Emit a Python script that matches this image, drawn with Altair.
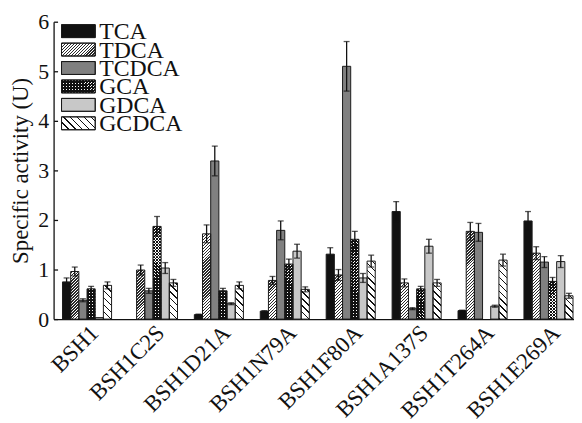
import altair as alt

# ---------------- data ----------------
strains = ["BSH1", "BSH1C2S", "BSH1D21A", "BSH1N79A", "BSH1F80A",
           "BSH1A137S", "BSH1T264A", "BSH1E269A"]
substrates = ["TCA", "TDCA", "TCDCA", "GCA", "GDCA", "GCDCA"]

tca   = [0.75, 0.00, 0.09, 0.16, 1.31, 2.17, 0.17, 1.98]
tdca  = [0.96, 0.99, 1.72, 0.78, 0.89, 0.73, 1.77, 1.33]
tcdca = [0.38, 0.57, 3.19, 1.79, 5.10, 0.21, 1.75, 1.15]
gca   = [0.61, 1.87, 0.57, 1.11, 1.61, 0.61, 0.00, 0.76]
gdca  = [0.03, 1.03, 0.31, 1.37, 0.83, 1.47, 0.26, 1.16]
gcdca = [0.68, 0.73, 0.68, 0.60, 1.17, 0.73, 1.19, 0.47]

tca_err   = [0.08, 0.00, 0.01, 0.01, 0.13, 0.20, 0.01, 0.19]
tdca_err  = [0.09, 0.10, 0.18, 0.08, 0.11, 0.08, 0.18, 0.13]
tcdca_err = [0.03, 0.05, 0.30, 0.19, 0.50, 0.02, 0.18, 0.11]
gca_err   = [0.05, 0.20, 0.05, 0.10, 0.16, 0.05, 0.00, 0.08]
gdca_err  = [0.00, 0.11, 0.02, 0.14, 0.09, 0.14, 0.02, 0.12]
gcdca_err = [0.07, 0.07, 0.07, 0.05, 0.12, 0.07, 0.12, 0.05]

y_ticks = [0, 1, 2, 3, 4, 5, 6]

values = [tca, tdca, tcdca, gca, gdca, gcdca]
errors = [tca_err, tdca_err, tcdca_err, gca_err, gdca_err, gcdca_err]

# ---------------- layout / style ----------------
PLOT_W, PLOT_H, Y_MAX = 525, 300, 6
PAD_IN, PAD_OUT, ALIGN = 0.2556, 0.075, 0.9
FONT = "Liberation Serif"
step = PLOT_W / (len(strains) - PAD_IN + 2 * PAD_OUT)
BAR_W = step * (1 - PAD_IN) / len(substrates)
PX_PER_UNIT = PLOT_H / Y_MAX
CHUNK_PX = 21                      # hatch is drawn in pieces of this height
CHUNK = CHUNK_PX / PX_PER_UNIT

# fill styles: solid colour or hatch (period px, ink fraction, ink, paper, slope)
styles = {
    "TCA":   {"solid": "#111111"},
    "TDCA":  {"hatch": (3.0, 0.45, "#2a2a2a", "#ffffff", "/")},
    "TCDCA": {"solid": "#808080"},
    "GCA":   {"hatch": (3.0, 0.55, "#111111", "#ffffff", "/"),
              "over": (3.0, 0.55, "#111111", "rgba(255,255,255,0)", "\\")},
    "GDCA":  {"solid": "#c8c8c8"},
    "GCDCA": {"hatch": (7.0, 0.2, "#111111", "#ffffff", "\\")},
}


def hatch(w, h, period, frac, ink, paper, slope):
    """Linear gradient (bounding-box units) drawing 45-degree stripes,
    phase anchored at the bottom edge of the box."""
    L = w + h
    kk = L * h / (w * w + h * h)
    if slope == "/":
        x1, y1, x2, y2 = 1, 1, 1 - kk * w / h, 1 - kk
    else:
        x1, y1, x2, y2 = 0, 1, kk * w / h, 1 - kk
    stops = []
    pos = 0.0
    while pos < L:
        a = pos / L
        b = min((pos + frac * period) / L, 1.0)
        c = min((pos + period) / L, 1.0)
        stops += [(a, ink), (b, ink), (b, paper), (c, paper)]
        pos += period
    return {"gradient": "linear", "x1": x1, "y1": y1, "x2": x2, "y2": y2,
            "stops": [{"offset": round(o, 5), "color": col} for o, col in stops]}


def fill_for(sub, w, h, key="main"):
    st = styles[sub]
    if key == "over":
        return hatch(w, h, *st["over"]) if "over" in st else "rgba(0,0,0,0)"
    if "solid" in st:
        return st["solid"]
    return hatch(w, h, *st["hatch"])


bar_rows, piece_rows, err_rows = [], [], []
for si, sub in enumerate(substrates):
    for gi, strain in enumerate(strains):
        v = values[si][gi]
        e = errors[si][gi]
        if v > 0:
            bar_rows.append({"strain": strain, "sub": sub, "value": v})
            if "solid" in styles[sub]:
                piece_rows.append({"strain": strain, "sub": sub, "y0": 0,
                                   "y1": v, "g1": styles[sub]["solid"],
                                   "g2": "rgba(0,0,0,0)"})
            else:
                lo = 0.0
                while lo < v - 1e-9:
                    hi = min(lo + CHUNK, v)
                    hpx = (hi - lo) * PX_PER_UNIT
                    piece_rows.append({"strain": strain, "sub": sub,
                                       "y0": lo, "y1": hi,
                                       "g1": fill_for(sub, BAR_W, hpx),
                                       "g2": fill_for(sub, BAR_W, hpx, "over")})
                    lo = hi
        if e > 0:
            err_rows.append({"strain": strain, "sub": sub,
                             "lo": v - e, "hi": v + e})

legend_rows = [{"sub": s,
                "g1": fill_for(s, 34, 13),
                "g2": fill_for(s, 34, 13, "over")} for s in substrates]

# ---------------- chart ----------------
x_enc = alt.X("strain:N", sort=strains,
              scale=alt.Scale(domain=strains, paddingInner=PAD_IN,
                              paddingOuter=PAD_OUT, align=ALIGN),
              axis=alt.Axis(title=None, labelAngle=-45, labelAlign="right",
                            labelBaseline="middle", labelFontSize=23,
                            labelPadding=10, labelOffset=8, ticks=False,
                            domainColor="#111111", domainWidth=1.3))
xo_enc = alt.XOffset("sub:N", sort=substrates,
                     scale=alt.Scale(domain=substrates, paddingInner=0,
                                     paddingOuter=0))
y_scale = alt.Scale(domain=[0, Y_MAX], nice=False, zero=True)
y_axis = alt.Axis(title="Specific activity (U)", values=y_ticks,
                  titleFontSize=23, titleFontWeight="normal", titlePadding=5,
                  labelFontSize=22, labelPadding=5, ticks=False, grid=False,
                  domainColor="#111111", domainWidth=1.3)

pieces_base = alt.Chart(alt.Data(values=piece_rows))
pieces = pieces_base.mark_bar(strokeWidth=0).encode(
    x=x_enc, xOffset=xo_enc,
    y=alt.Y("y0:Q", scale=y_scale, axis=y_axis), y2="y1:Q",
    fill=alt.Fill("g1:N", scale=None),
)
pieces_over = pieces_base.mark_bar(strokeWidth=0).encode(
    x=x_enc, xOffset=xo_enc,
    y=alt.Y("y0:Q", scale=y_scale), y2="y1:Q",
    fill=alt.Fill("g2:N", scale=None),
)
outline = alt.Chart(alt.Data(values=bar_rows)).mark_bar(
    fill="transparent", stroke="#1a1a1a", strokeWidth=1).encode(
    x=x_enc, xOffset=xo_enc,
    y=alt.Y("value:Q", scale=y_scale),
)

err_base = alt.Chart(alt.Data(values=err_rows))
err_rule = err_base.mark_rule(color="#111111", strokeWidth=1.3).encode(
    x=x_enc, xOffset=xo_enc,
    y=alt.Y("lo:Q", scale=y_scale), y2="hi:Q",
)
cap_hi = err_base.mark_tick(color="#111111", thickness=1.3, size=6).encode(
    x=x_enc, xOffset=xo_enc, y=alt.Y("hi:Q", scale=y_scale))
cap_lo = err_base.mark_tick(color="#111111", thickness=1.3, size=6).encode(
    x=x_enc, xOffset=xo_enc, y=alt.Y("lo:Q", scale=y_scale))

main = alt.layer(pieces, pieces_over, outline, err_rule, cap_hi, cap_lo)

# legend (inside plot, upper left)
leg_y = alt.Y("sub:N", sort=substrates,
              scale=alt.Scale(type="band", domain=substrates, range=[3, 109],
                              paddingInner=0.3, paddingOuter=0),
              axis=None)
leg_base = alt.Chart(alt.Data(values=legend_rows))
leg_rect = leg_base.mark_rect(stroke="#1a1a1a", strokeWidth=1).encode(
    x=alt.value(8), x2=alt.value(42), y=leg_y,
    fill=alt.Fill("g1:N", scale=None))
leg_rect2 = leg_base.mark_rect(stroke="#1a1a1a", strokeWidth=1).encode(
    x=alt.value(8), x2=alt.value(42), y=leg_y,
    fill=alt.Fill("g2:N", scale=None))
leg_text = leg_base.mark_text(align="left", baseline="alphabetic", fontSize=24,
                              font=FONT, color="#111111", dy=8).encode(
    x=alt.value(46), y=leg_y, text="sub:N")
legend = alt.layer(leg_rect, leg_rect2, leg_text)

# inward tick marks on the y axis
inward = alt.Chart(alt.Data(values=[{"v": t} for t in y_ticks])).mark_point(
    opacity=0).encode(
    x=alt.value(0),
    y=alt.Y("v:Q", scale=y_scale,
            axis=alt.Axis(orient="right", offset=-PLOT_W, labels=False,
                          domain=False, ticks=True, tickSize=4,
                          tickColor="#111111", tickWidth=1.3,
                          values=y_ticks, title=None, grid=False)))

chart = alt.layer(main, legend, inward).resolve_scale(
    y="independent"
).properties(
    width=PLOT_W, height=PLOT_H,
    autosize=alt.AutoSizeParams(type="none"),
    padding={"left": 46, "top": 12, "right": 0, "bottom": 103},
).configure_view(stroke=None).configure_axis(
    labelFont=FONT, titleFont=FONT, labelColor="#111111",
    titleColor="#111111",
)

chart.save("out.html", embed_options={"renderer": "svg", "actions": False})
